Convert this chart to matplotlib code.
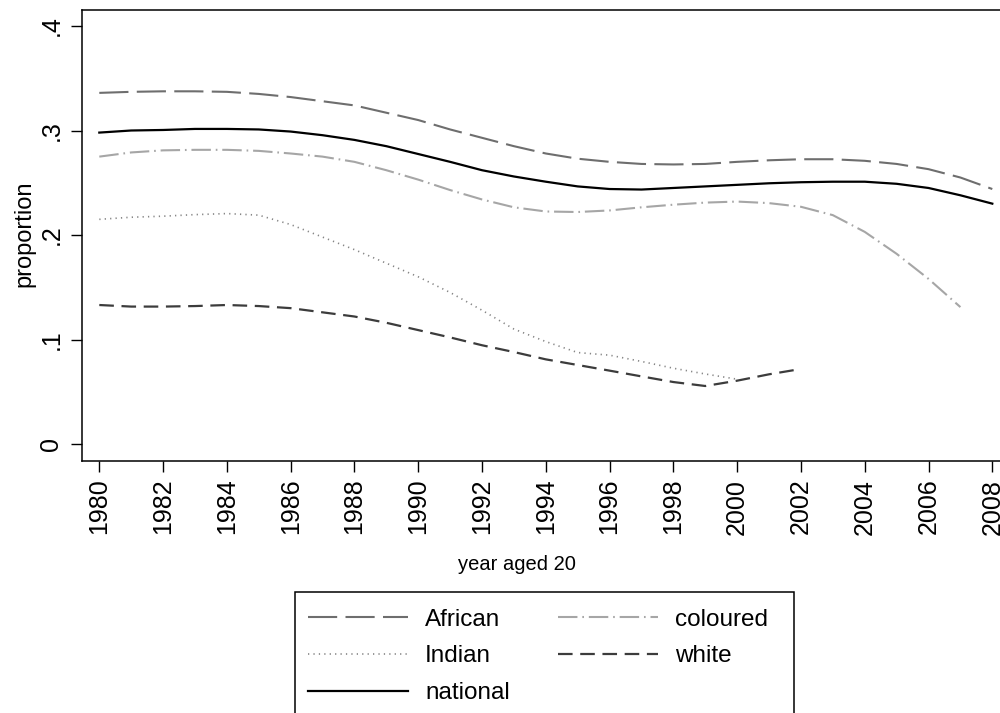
import matplotlib
matplotlib.use("Agg")
import matplotlib.pyplot as plt
from matplotlib.lines import Line2D
from matplotlib.patches import Rectangle

plt.rcParams['font.family'] = ['Liberation Sans', 'DejaVu Sans']
plt.rcParams['lines.scale_dashes'] = False

years = list(range(1980, 2009))
african = [0.336, 0.337, 0.3375, 0.3375, 0.337, 0.335, 0.332, 0.328, 0.324, 0.317,
           0.310, 0.301, 0.293, 0.285, 0.278, 0.273, 0.270, 0.268, 0.2675, 0.268,
           0.270, 0.2715, 0.2725, 0.2725, 0.271, 0.268, 0.263, 0.255, 0.244]
national = [0.298, 0.300, 0.3005, 0.3015, 0.3015, 0.301, 0.299, 0.2955, 0.291, 0.285,
            0.2775, 0.270, 0.262, 0.256, 0.251, 0.2465, 0.244, 0.2435, 0.245, 0.2465,
            0.248, 0.2495, 0.2505, 0.251, 0.251, 0.249, 0.245, 0.238, 0.230]
years_coloured = list(range(1980, 2008))
coloured = [0.275, 0.279, 0.281, 0.2815, 0.2815, 0.2805, 0.278, 0.275, 0.270, 0.262,
            0.253, 0.243, 0.234, 0.2265, 0.2225, 0.222, 0.2235, 0.2265, 0.229, 0.231,
            0.232, 0.2305, 0.227, 0.219, 0.203, 0.182, 0.158, 0.131]
years_indian = list(range(1980, 2001))
indian = [0.215, 0.217, 0.218, 0.2195, 0.2205, 0.219, 0.210, 0.198, 0.186, 0.173,
          0.160, 0.145, 0.128, 0.110, 0.098, 0.0875, 0.085, 0.079, 0.0725, 0.067, 0.062]
years_white = list(range(1980, 2003))
white = [0.133, 0.1315, 0.1315, 0.132, 0.133, 0.132, 0.130, 0.126, 0.122, 0.116,
         0.109, 0.102, 0.0945, 0.088, 0.081, 0.0756, 0.0702, 0.0647, 0.0593, 0.0555,
         0.0606, 0.0667, 0.0718]

xticks = list(range(1980, 2009, 2))
yticks = [0, 0.1, 0.2, 0.3, 0.4]
ytick_labels = ['0', '.1', '.2', '.3', '.4']

fig = plt.figure(figsize=(10, 7.13), dpi=100)
W, H = 1000, 713
left, right, top, bottom = 82.3, 1009.3, 9.7, 461
ax = fig.add_axes([left / W, 1 - bottom / H, (right - left) / W, (bottom - top) / H])

styles = {
    'African': dict(color='#6e6e6e', lw=1.5, dashes=(21, 6)),
    'Indian': dict(color='#858585', lw=1.2, dashes=(0.9, 3.0)),
    'national': dict(color='#000000', lw=1.6),
    'coloured': dict(color='#a6a6a6', lw=1.5, dashes=(14, 3.5, 1.2, 3.5)),
    'white': dict(color='#3c3c3c', lw=1.6, dashes=(10.5, 5.5)),
}

ax.plot(years, african, **styles['African'])
ax.plot(years_coloured, coloured, **styles['coloured'])
ax.plot(years_indian, indian, **styles['Indian'])
ax.plot(years_white, white, **styles['white'])
ax.plot(years, national, **styles['national'])

ax.set_xlim(1980 - 17 / 31.9, 2008 + 17 / 31.9)
ax.set_ylim(-17 / 1045, (444 - 9.7) / 1045)

ax.set_xticks(xticks)
ax.set_xticklabels([str(x) for x in xticks], rotation=90, fontsize=18)
ax.set_yticks(yticks)
ax.set_yticklabels(ytick_labels, rotation=90, fontsize=18, va='center')
ax.tick_params(axis='both', length=7.7, width=1.0, color='black')
ax.tick_params(axis='x', pad=5)
ax.tick_params(axis='y', pad=6)
for s in ax.spines.values():
    s.set_linewidth(1.1)

fig.text(24 / W, 1 - 234 / H, 'proportion', rotation=90, ha='center', va='center', fontsize=17)
fig.text(517 / W, 1 - 570 / H, 'year aged 20', ha='center', va='baseline', fontsize=14.5)

# legend frame drawn as a figure rectangle (box runs past the bottom edge)
fig.patches.append(Rectangle((295 / W, -0.02), (794 - 295) / W, (1 - 591.7 / H) + 0.02,
                             transform=fig.transFigure, fill=False,
                             edgecolor='black', linewidth=1.1))

handles_order = ['African', 'Indian', 'national', 'coloured', 'white']
handles = [Line2D([], [], **styles[k]) for k in handles_order]
leg = fig.legend(handles, handles_order, ncol=2, loc='upper left',
                 bbox_to_anchor=(295 / W, 1 - 595.5 / H), fontsize=17.5,
                 handlelength=4.1, handletextpad=0.7, columnspacing=2.0,
                 labelspacing=0.6, borderpad=0.55, borderaxespad=0,
                 frameon=False)

fig.savefig('out.png', dpi=100)
